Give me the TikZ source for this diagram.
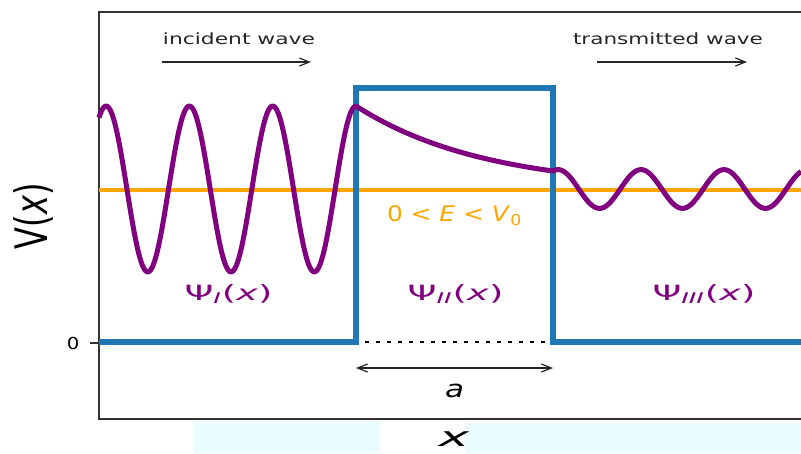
\documentclass[tikz,border=0pt]{standalone}
\usepackage{fontspec}
\setmainfont{DejaVu Sans}
\usepackage{graphicx}
\usetikzlibrary{positioning, arrows.meta, calc}
\definecolor{tabblue}{HTML}{1F77B4}
\definecolor{wavepurple}{HTML}{800080}
\definecolor{levelorange}{HTML}{FFA500}
\definecolor{bgcyan}{RGB}{234,252,254}
\newcommand{\stretchto}[2]{\resizebox{#1pt}{\height}{#2}}

\begin{document}
\begin{tikzpicture}[x=1pt, y=-1pt, >={Straight Barb[length=10pt, width=8pt]},
  lbl/.style={inner sep=0pt, anchor=base},
  note/.style={lbl, font=\fontsize{15.5}{18}\selectfont, text=black!85},
  psi/.style={lbl, font=\fontsize{21}{23}\selectfont, text=wavepurple},
  potl/.style={tabblue, line width=6.5pt, line join=miter},
  wave/.style={wavepurple, line width=5pt, line join=round},
  spine/.style={black!80, line width=1.2pt},
  dim/.style={black!85, line width=1.2pt}]
  \useasboundingbox (0,0) rectangle (801,453);
  \fill[bgcyan] (193,421) rectangle (380,453);
  \fill[bgcyan] (465,423) rectangle (801,453);
  \draw[spine] (801,12) -- (99,12) -- (99,419) -- (801,419);
  \draw[spine] (90,343) -- (99,343);
  \node[lbl, anchor=center, font=\fontsize{16.5}{18}\selectfont] (zero) at (73,343) {\stretchto{12.5}{0}};
  \draw[levelorange, line width=4.5pt] (99,190) -- (801,190);
  \coordinate (bl) at (356,342);
  \coordinate (tl) at (356,88);
  \coordinate (tr) at (553,88);
  \coordinate (br) at (553,342);
  \draw[potl] (99,342) -- (bl) -- (tl) -- (tr) -- (br) -- (801,342);
  \draw[black, line width=2.6pt, dash pattern=on 3.5pt off 7.5pt] ([xshift=9pt]bl) -- ([xshift=-4pt]br);
  \draw[wave] plot[domain=99:356, samples=160, smooth] (\x, {189-83*cos(4.3217*(\x-356))})
    -- plot[domain=356:553, samples=60, smooth] (\x, {189-83*exp(-0.00776*(\x-356))})
    -- plot[domain=553:801, samples=120, smooth] (\x, {189-19.4*cos(4.3373*(\x-558))});
  \node[note] (inc) at (239,44) {\stretchto{152}{incident wave}};
  \node[note] (trn) at (668,44) {\stretchto{190}{transmitted wave}};
  \coordinate (inca) at (162,62); \coordinate (incb) at (311,62);
  \coordinate (trna) at (597,62); \coordinate (trnb) at (747,62);
  \draw[dim, ->] (inca) -- (incb);
  \draw[dim, ->] (trna) -- (trnb);
  \node[lbl, font=\fontsize{21.5}{24}\selectfont, text=levelorange] (en) at (454.5,221) {\stretchto{135}{0 < \textit{E} < \textit{V}\textsubscript{0}}};
  \node[psi] (psa) at (228.5,300) {\stretchto{88}{Ψ\textsubscript{\textit{I}}(\textit{x})}};
  \node[psi] (psb) at (455.5,300) {\stretchto{96}{Ψ\textsubscript{\textit{II}}(\textit{x})}};
  \node[psi] (psc) at (704,300) {\stretchto{103}{Ψ\textsubscript{\textit{III}}(\textit{x})}};
  \coordinate (wa) at (356,368); \coordinate (wb) at (553,368);
  \draw[dim, <->] (wa) -- (wb);
  \node[lbl, font=\fontsize{24}{26}\selectfont] (wd) at (454.5,397) {\stretchto{19}{\textit{a}}};
  \node[lbl, font=\fontsize{27}{29}\selectfont] (xl) at (454,446) {\stretchto{31}{\textit{x}}};
  \node[inner sep=0pt, rotate=90, font=\fontsize{32}{34}\selectfont] (vl) at (33,216) {\scalebox{1}[1.4]{V(\textit{x})}};
\end{tikzpicture}
\end{document}
